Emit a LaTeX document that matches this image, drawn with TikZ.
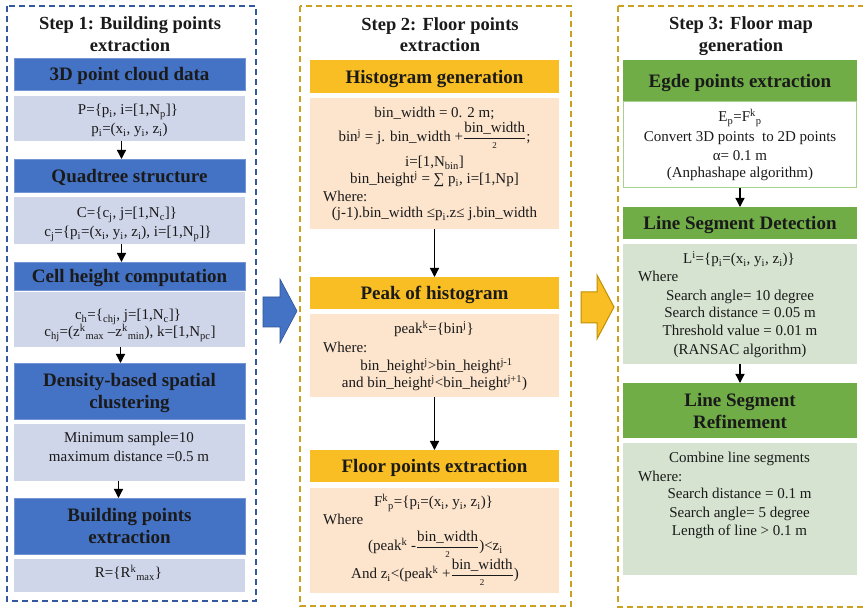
\documentclass[tikz,border=0pt]{standalone}
\usepackage{amsmath}
\usepackage{fontspec}
\setmainfont{Liberation Serif}
\usetikzlibrary{arrows.meta}
\definecolor{hblue}{RGB}{68,114,196}
\definecolor{hbluedk}{RGB}{47,85,151}
\definecolor{lblue}{RGB}{208,214,234}
\definecolor{hyel}{RGB}{248,190,36}
\definecolor{hyeldk}{RGB}{191,144,0}
\definecolor{lorange}{RGB}{252,228,205}
\definecolor{hgreen}{RGB}{112,173,71}
\definecolor{lgreen}{RGB}{214,227,208}
\definecolor{gborder}{RGB}{169,209,142}
\definecolor{dblue}{RGB}{52,88,158}
\definecolor{dgold}{RGB}{204,160,32}
\definecolor{txt}{RGB}{26,26,26}
\newcommand\ttlfont{\fontsize{18.5}{21.5}\selectfont\bfseries}
\newcommand\hdrfont{\fontsize{19}{22}\selectfont\bfseries}
\newcommand\bodfont{\fontsize{15}{18}\selectfont}
\newcommand\hfr{\ensuremath{\genfrac{}{}{0.6pt}{0}{\text{bin\_width}}{\raisebox{3pt}[0pt][0pt]{\fontsize{9}{9}\selectfont 2}}}}
\newcommand\sbs[1]{\textsubscript{#1}}
\newcommand\sps[1]{\textsuperscript{#1}}
\begin{document}
\begin{tikzpicture}[x=1pt,y=-1pt,
  base/.style={inner sep=0pt, outer sep=0pt, align=center, text=txt},
  ttl/.style={base, font=\ttlfont},
  hdr/.style={base, font=\hdrfont, text depth=0pt},
  hdA/.style={hdr, fill=hblue, draw=hblue!75!white, line width=0.6pt, minimum width=231pt},
  bdA/.style={base, fill=lblue, minimum width=231pt},
  hdB/.style={hdr, fill=hyel, minimum width=249pt},
  bdB/.style={base, fill=lorange, minimum width=249pt},
  hdC/.style={hdr, fill=hgreen, minimum width=234pt},
  bdC/.style={base, fill=lgreen, minimum width=234pt},
  bdW/.style={base, fill=white, draw=gborder, line width=1pt, minimum width=233pt},
  tl/.style={inner sep=0pt, font=\bodfont, text=txt, anchor=base},
  tlw/.style={inner sep=0pt, font=\bodfont, text=txt, anchor=base west},
  arr/.style={draw=black, line width=1.3pt, -{Triangle[width=9pt,length=9pt]}},
  frA/.style={draw=dblue, line width=1.4pt, dash pattern=on 6pt off 4pt},
  frB/.style={draw=dgold, line width=1.4pt, dash pattern=on 6pt off 4pt}]
\clip (0,0) rectangle (863,609);
\fill[white] (0,0) rectangle (863,609);
% frames
\draw[frA] (7,6) rectangle (256,601);
\draw[frB] (300,6) rectangle (571,606);
\draw[frB] (618,6) rectangle (870,607);
% titles
\node[ttl] (t1) at (130,34) {Step 1: Building points\\extraction};
\node[ttl] (t2) at (440,34.5) {Step 2: Floor points\\extraction};
\node[ttl] (t3) at (741,36) {Step 3: Floor map\\generation};
% column 1
\node[hdA, minimum height=32pt] (h11) at (129.5,74) {3D point cloud data};
\node[bdA, minimum height=45pt] (b11) at (129.5,118.5) {};
\node[tl] (l111) at (128,115) {P=\{p\sbs{i}, i=[1,N\sbs{p}]\}};
\node[tl] (l112) at (129.5,134) {p\sbs{i}=(x\sbs{i}, y\sbs{i}, z\sbs{i})};
\node[hdA, minimum height=33pt] (h12) at (129.5,175.5) {Quadtree structure};
\node[bdA, minimum height=47pt] (b12) at (129.5,220.5) {};
\node[tl] (l121) at (127,218) {C=\{c\sbs{j}, j=[1,N\sbs{c}]\}};
\node[tl] (l122) at (128,237) {c\sbs{j}=\{p\sbs{i}=(x\sbs{i}, y\sbs{i}, z\sbs{i}), i=[1,N\sbs{p}]\}};
\node[hdA, minimum height=28pt] (h13) at (129.5,276) {Cell height computation};
\node[bdA, minimum height=55pt] (b13) at (129.5,319.5) {};
\node[tl] (l131) at (128,320) {c\sbs{h}=\{\sbs{chj}, j=[1,N\sbs{c}]\}};
\node[tl] (l132) at (130,337) {c\sbs{hj}=(z\sps{k}\sbs{max} --z\sps{k}\sbs{min}), k=[1,N\sbs{pc}]};
\node[hdA, minimum height=56pt] (h14) at (129.5,391) {Density-based spatial\\clustering};
\node[bdA, minimum height=57pt] (b14) at (129.5,452.5) {};
\node[tl] (l141) at (129,443) {Minimum sample=10};
\node[tl] (l142) at (129,462) {maximum distance =0.5 m};
\node[hdA, minimum height=56pt] (h15) at (129.5,526) {Building points\\extraction};
\node[bdA, minimum height=33pt] (b15) at (129.5,575.5) {};
\node[tl] (l151) at (128.5,578) {R=\{R\sps{k}\sbs{max}\}};
\draw[arr] ([xshift=-8pt]b11.south) -- ([xshift=-8pt]h12.north);
\draw[arr] ([xshift=-8pt]b12.south) -- ([xshift=-8pt]h13.north);
\draw[arr] ([xshift=-9pt]b13.south) -- ([xshift=-9pt]h14.north);
\draw[arr] ([xshift=-11pt]b14.south) -- ([xshift=-11pt]h15.north);
% column 2
\node[hdB, minimum height=33pt] (h21) at (434.5,76.5) {Histogram generation};
\node[bdB, minimum height=131pt] (b21) at (434.5,163.5) {};
\node[tl] (l211) at (434.5,118) {bin\_width = 0. 2 m;};
\node[tl] (l212) at (434.5,142) {bin\sps{j} = j. bin\_width +\hfr;};
\node[tl] (l213) at (434.5,167) {i=[1,N\sbs{bin}]};
\node[tl] (l214) at (434.5,184) {bin\_height\sps{j} = ∑ p\sbs{i}, i=[1,Np]};
\node[tlw] (l215) at (323,202) {Where:};
\node[tl] (l216) at (434.5,218) {(j-1).bin\_width ≤p\sbs{i}.z≤ j.bin\_width};
\node[hdB, minimum height=32pt] (h22) at (434.5,293) {Peak of histogram};
\node[bdB, minimum height=83pt] (b22) at (434.5,355.5) {};
\node[tl] (l221) at (434,334) {peak\sps{k}=\{bin\sps{j}\}};
\node[tlw] (l222) at (323,353) {Where:};
\node[tl] (l223) at (436.5,371) {bin\_height\sps{j}>bin\_height\sps{j-1}};
\node[tl] (l224) at (434.5,388) {and bin\_height\sps{j}<bin\_height\sps{j+1})};
\node[hdB, minimum height=32pt] (h23) at (434.5,466) {Floor points extraction};
\node[bdB, minimum height=105pt] (b23) at (434.5,540.5) {};
\node[tl] (l231) at (433.5,507) {F\sps{k}\sbs{p}=\{p\sbs{i}=(x\sbs{i}, y\sbs{i}, z\sbs{i})\}};
\node[tlw] (l232) at (323,525) {Where};
\node[tl] (l233) at (435.5,551) {(peak\sps{k} -\hfr)<z\sbs{i}};
\node[tl] (l234) at (435,579) {And z\sbs{i}<(peak\sps{k} +\hfr)};
\draw[arr] (b21.south) -- (h22.north);
\draw[arr] (b22.south) -- (h23.north);
% column 3
\node[hdC, minimum height=42pt] (h31) at (740,81) {Egde points extraction};
\node[bdW, minimum height=86pt] (b31) at (740,145) {};
\node[tl] (l311) at (740,122) {E\sbs{p}=F\sps{k}\sbs{p}};
\node[tl] (l312) at (740,142) {Convert 3D points\ \ to 2D points};
\node[tl] (l313) at (740,161) {α= 0.1 m};
\node[tl] (l314) at (740,178) {(Anphashape algorithm)};
\node[hdC, minimum height=32pt] (h32) at (740,223) {Line Segment Detection};
\node[bdC, minimum height=120pt] (b32) at (740,304) {};
\node[tl] (l321) at (739,264) {L\sps{i}=\{p\sbs{i}=(x\sbs{i}, y\sbs{i}, z\sbs{i})\}};
\node[tlw] (l322) at (638,282) {Where};
\node[tl] (l323) at (740,301) {Search angle= 10 degree};
\node[tl] (l324) at (740,318) {Search distance = 0.05 m};
\node[tl] (l325) at (740,336) {Threshold value = 0.01 m};
\node[tl] (l326) at (740,355) {(RANSAC algorithm)};
\node[hdC, minimum height=55pt] (h33) at (740,410.5) {Line Segment\\Refinement};
\node[bdC, minimum height=132pt] (b33) at (740,509) {};
\node[tl] (l331) at (739.5,463) {Combine line segments};
\node[tlw] (l332) at (638,482) {Where:};
\node[tl] (l333) at (739.5,499) {Search distance = 0.1 m};
\node[tl] (l334) at (739.5,518) {Search angle= 5 degree};
\node[tl] (l335) at (739.5,536) {Length of line > 0.1 m};
\draw[arr] (b31.south) -- (h32.north);
\draw[arr] (b32.south) -- (h33.north);
% block arrows between steps
\draw[fill=hblue, draw=hbluedk, line width=0.6pt] (263,297) -- (280,297) -- (280,279) -- (297,311) -- (280,343) -- (280,327) -- (263,327) -- cycle;
\draw[fill=hyel, draw=hyeldk, line width=1pt] (581,292) -- (597,292) -- (597,275) -- (614,307) -- (597,339) -- (597,323) -- (581,323) -- cycle;
\end{tikzpicture}
\end{document}
